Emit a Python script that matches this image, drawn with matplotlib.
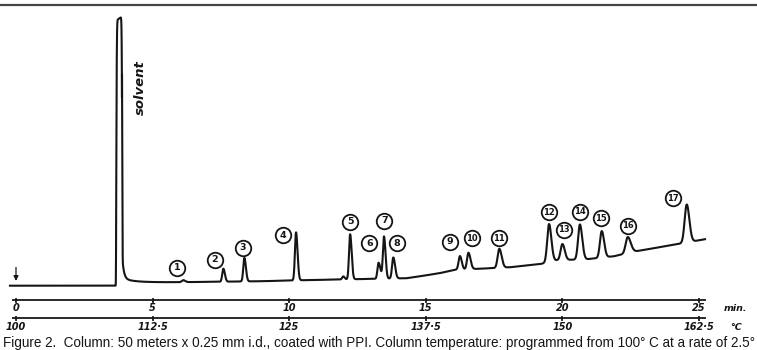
import numpy as np
import matplotlib
matplotlib.use("Agg")
import matplotlib.pyplot as plt

# peaks: retention time (min), height above baseline, left/right width
peak_labels = ["1", "2", "3", "4", "", "5", "6", "7", "8", "9", "10", "11",
               "12", "13", "14", "15", "16", "17"]
peak_time = [6.12, 7.59, 8.36, 10.25, 11.98, 12.23, 13.27, 13.47, 13.81, 16.25, 16.56,
             17.69, 19.51, 20.00, 20.64, 21.44, 22.39, 24.55]
peak_height = [2.0, 13.0, 23.5, 48.0, 3.0, 45.0, 16.0, 42.0, 21.0, 13.5, 16.5,
               19.0, 38.0, 16.0, 35.0, 26.5, 16.0, 38.0]
sig_left = [0.05, 0.04, 0.04, 0.04, 0.04, 0.04, 0.04, 0.04, 0.045, 0.05, 0.05,
            0.06, 0.065, 0.065, 0.065, 0.065, 0.075, 0.075]
sig_right = [0.07, 0.055, 0.055, 0.055, 0.05, 0.055, 0.07, 0.055, 0.065, 0.065, 0.075,
             0.085, 0.085, 0.085, 0.085, 0.085, 0.11, 0.095]

# circled number positions (time, height)
label_t = [5.89, 7.28, 8.30, 9.77, None, 12.23, 12.93, 13.48, 13.93, 15.89, 16.68,
           17.68, 19.51, 20.06, 20.64, 21.40, 22.41, 24.06]
label_h = [17.7, 25.7, 38.0, 50.7, None, 63.7, 42.4, 65.0, 42.4, 44.0, 47.4,
           47.4, 73.4, 55.7, 74.0, 67.4, 59.7, 87.4]

# drifting baseline
base_t = [-0.22, 3.70, 3.86, 6.0, 9.0, 10.5, 12.0, 14.3, 14.8, 15.5, 16.1, 17.0, 18.1,
          19.2, 19.8, 20.9, 21.9, 22.6, 24.3, 25.22]
base_h = [0, 0, 3.2, 3.5, 4.5, 5.5, 6.3, 7.5, 9.5, 12.5, 16.0, 17.0, 18.5,
          21.7, 25.5, 26.5, 29.5, 34.0, 42.0, 46.5]

solvent_time = 3.78
solvent_height = 265.7

min_ticks = [0, 5, 10, 15, 20, 25]
temp_ticks = ["100", "112·5", "125", "137·5", "150", "162·5"]

caption = ("Figure 2.  Column: 50 meters x 0.25 mm i.d., coated with PPI. Column "
           "temperature: programmed from 100° C at a rate of 2.5°")

t = np.linspace(-0.22, 25.22, 30000)
y = np.interp(t, base_t, base_h)
# solvent peak, off scale (flat top)
y = y + solvent_height * np.exp(-((t - solvent_time) / 0.11) ** 10)
after = t > 3.88
y[after] += 25 * np.exp(-(t[after] - 3.88) / 0.06) + 4 * np.exp(-(t[after] - 3.88) / 0.45)
for c, h, sl, sr in zip(peak_time, peak_height, sig_left, sig_right):
    s = np.where(t < c, sl, sr)
    y = y + h * np.exp(-0.5 * ((t - c) / s) ** 2)

fig = plt.figure(figsize=(7.57, 3.5), dpi=100)
ax = fig.add_axes([0, 0, 1, 1])
ax.set_xlim(-16 / 27.32, (757 - 16) / 27.32)
ax.set_ylim(-64.3, 285.7)
ax.axis("off")

ink = "#151515"
ax.plot(ax.get_xlim(), [280.7, 280.7], color="#444444", lw=1.6)
ax.plot(t, y, color=ink, lw=1.5, solid_joinstyle="round")

ax.annotate("", xy=(0, 2.0), xytext=(0, 21),
            arrowprops=dict(arrowstyle="-|>", lw=0.9, color=ink, mutation_scale=7))

ax.text(4.54, 197.7, "solvent", rotation=90, ha="center", va="center",
        fontsize=9.5, fontweight="bold", fontstyle="italic", color=ink)

for lab, lt, lh in zip(peak_labels, label_t, label_h):
    if not lab:
        continue
    ax.scatter([lt], [lh], s=125, facecolor="white", edgecolor=ink, linewidth=1.3, zorder=3)
    ax.text(lt, lh, lab, ha="center", va="center", fontsize=6 if len(lab) > 1 else 6.8,
            fontweight="bold", color=ink, zorder=4)

# time and temperature scales
for yl, labs, ly, unit in [(-14.3, [str(m) for m in min_ticks], -22.6, "min."),
                           (-32.3, temp_ticks, -41.6, "°C")]:
    ax.plot([-0.1, 25.22], [yl, yl], color="#2a2a2a", lw=1.4)
    for m, lab in zip(min_ticks, labs):
        ax.plot([m, m], [yl - 2.2, yl + 1.5], color=ink, lw=1.3)
        ax.text(m, ly, lab, ha="center", va="center", fontsize=7,
                fontweight="bold", fontstyle="italic", color=ink)
    ax.text(26.35, ly, unit, ha="center", va="center", fontsize=6.8,
            fontweight="bold", fontstyle="italic", color=ink)

cap = ax.text(-0.47, -61.6, caption, ha="left", va="baseline", fontsize=9.3,
              family="Liberation Sans", color=ink)
fig.canvas.draw()
w = cap.get_window_extent().width
cap.set_fontsize(9.3 * 752 / w)

fig.savefig("out.png", dpi=100)
